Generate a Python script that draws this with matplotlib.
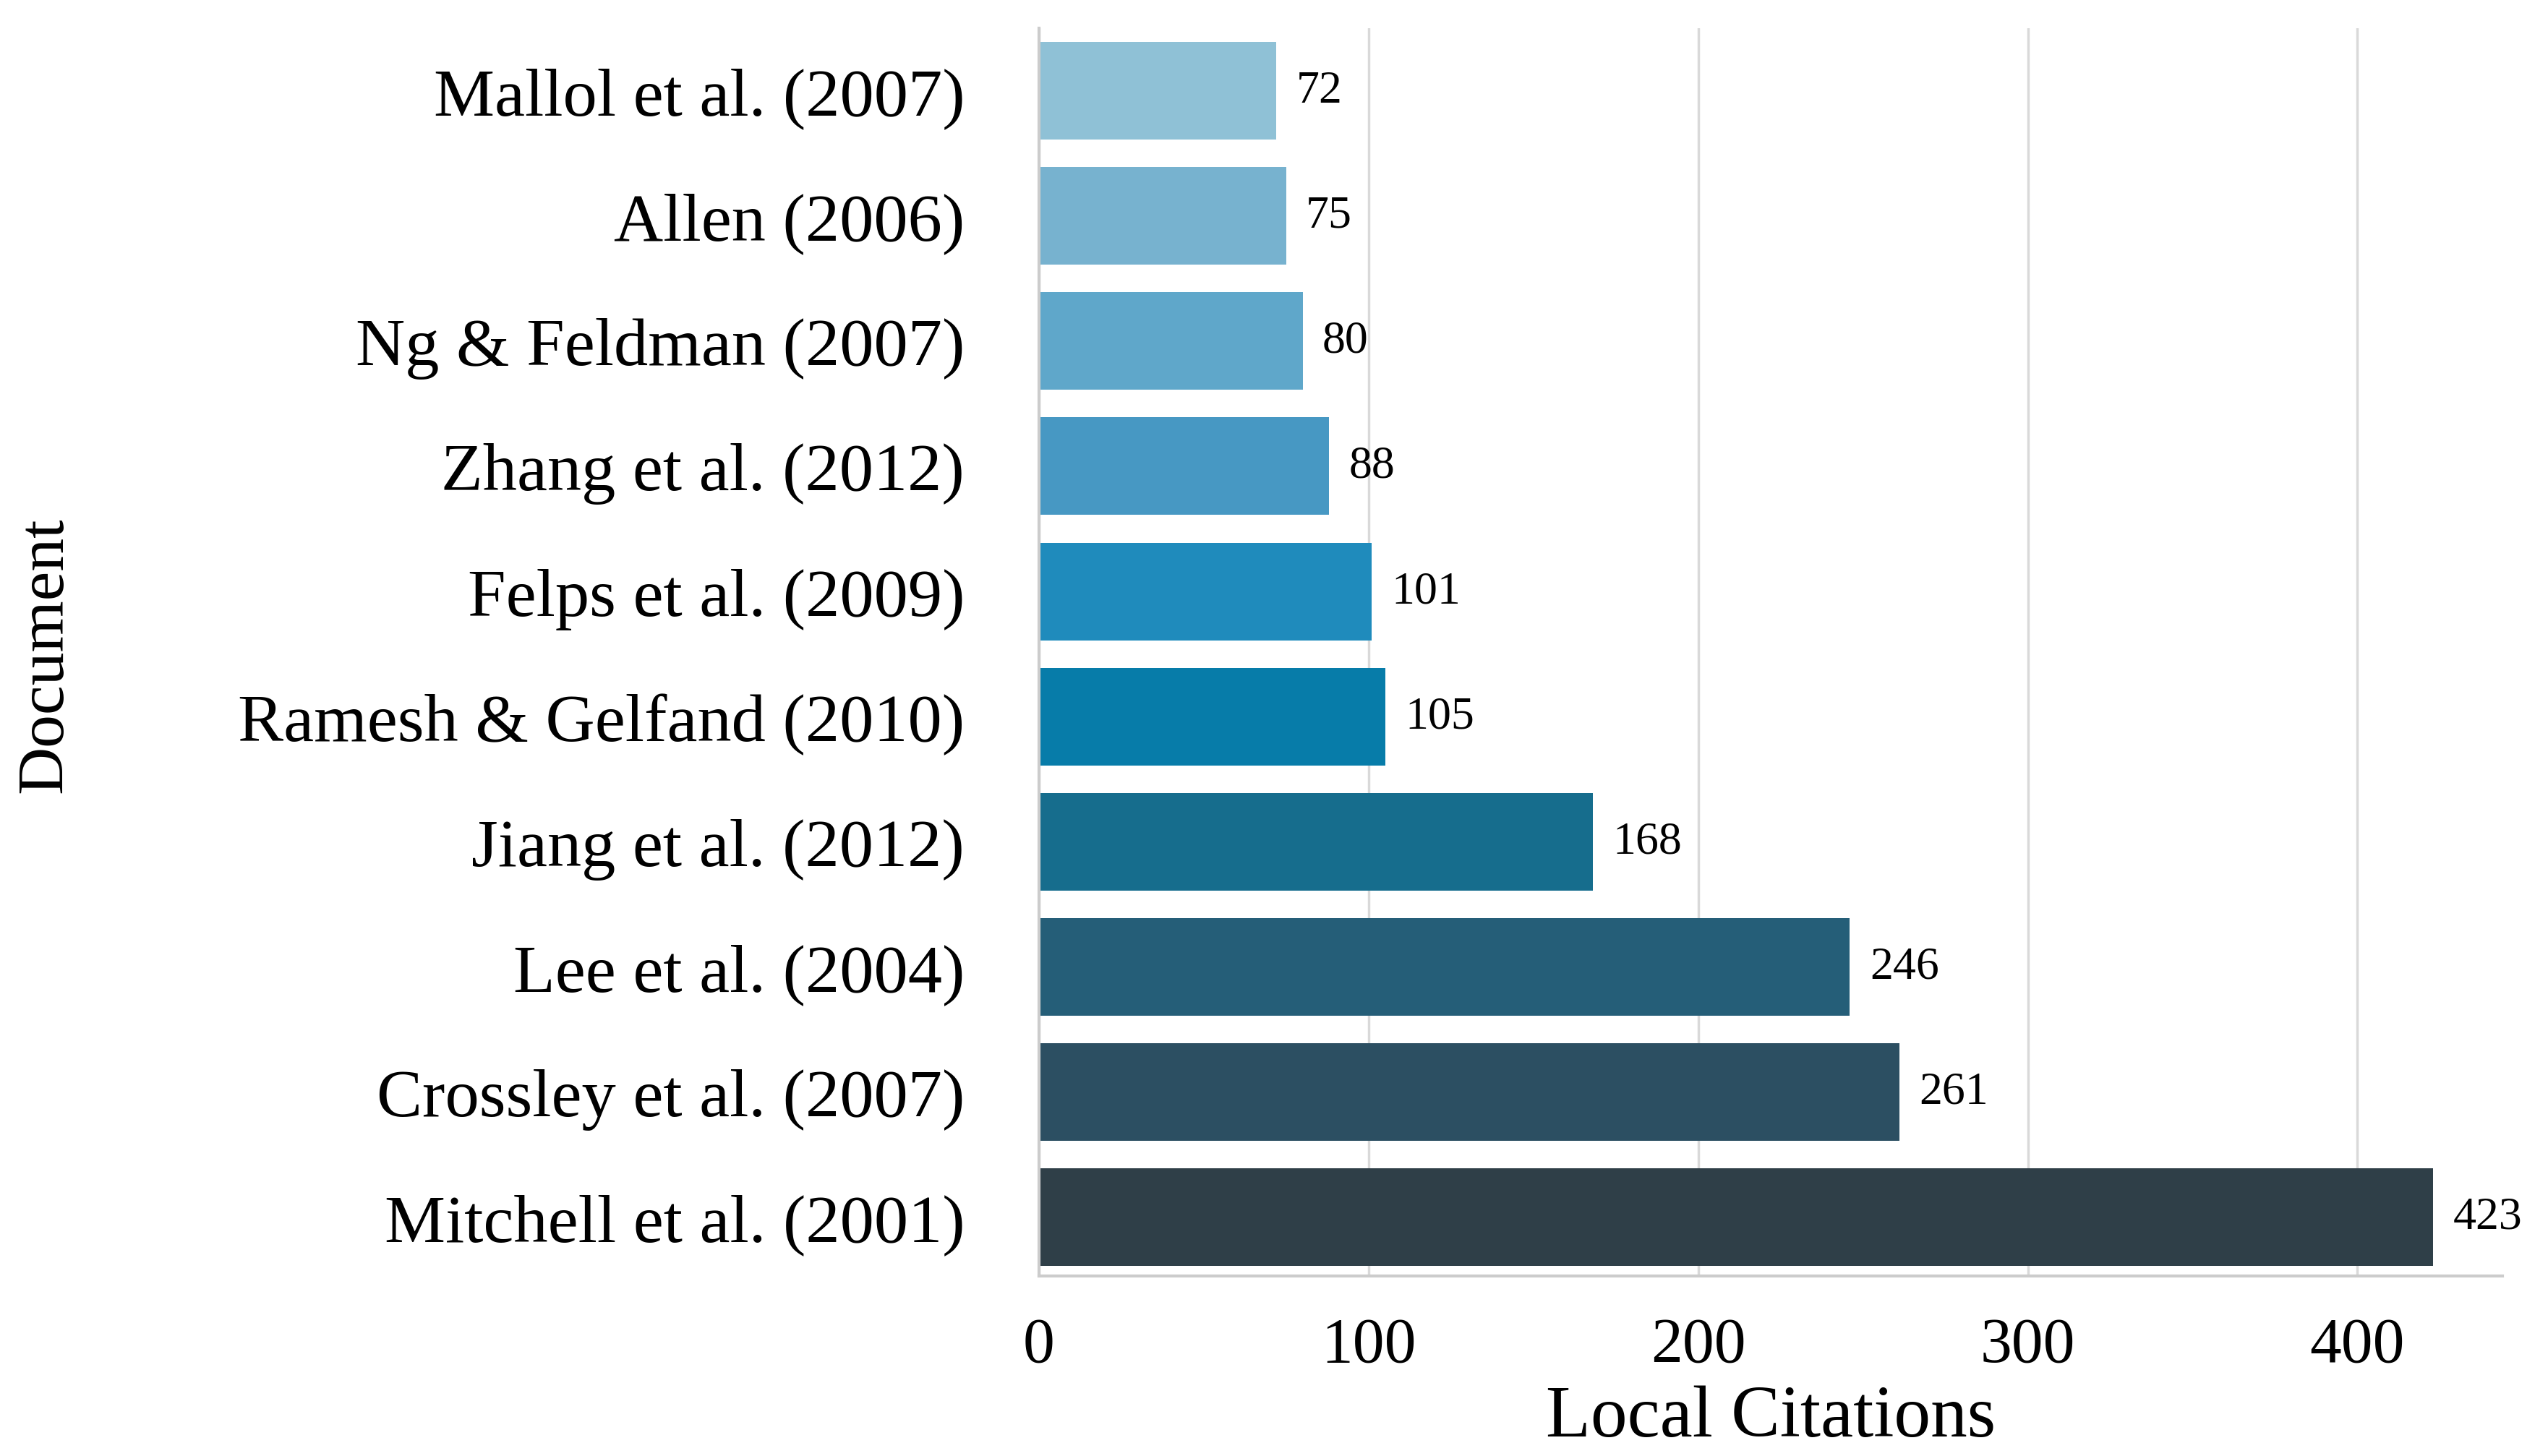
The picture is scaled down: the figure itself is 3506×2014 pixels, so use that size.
import matplotlib
matplotlib.use('Agg')
import matplotlib.pyplot as plt

documents = ['Mitchell et al. (2001)', 'Crossley et al. (2007)', 'Lee et al. (2004)',
             'Jiang et al. (2012)', 'Ramesh & Gelfand (2010)', 'Felps et al. (2009)',
             'Zhang et al. (2012)', 'Ng & Feldman (2007)', 'Allen (2006)', 'Mallol et al. (2007)']
citations = [423, 261, 246, 168, 105, 101, 88, 80, 75, 72]
colors = ['#2F3F48', '#2C4F62', '#255E78', '#166D8D', '#077CA9',
          '#1F8BBC', '#4798C3', '#5FA7CA', '#77B2CF', '#8FC1D6']
x_ticks = [0, 100, 200, 300, 400]

plt.rcParams['font.family'] = ['Liberation Serif', 'DejaVu Serif']

fig = plt.figure(figsize=(35.06, 20.15), dpi=100)
ax = fig.add_axes([1437/3506, 1 - 1766/2015, (3461-1437)/3506, (1766-40)/2015])

y = list(range(len(documents)))
ax.barh(y, citations, height=0.78, color=colors, zorder=2)
for yi, v in zip(y, citations):
    ax.text(v + 6, yi, str(v), va='center', ha='left', fontsize=46, zorder=3)

ax.set_xlim(0, 444)
ax.set_ylim(-0.47, 9.5)
ax.set_yticks(y)
ax.set_yticklabels(documents, fontsize=68)
ax.set_xticks(x_ticks)
ax.set_xticklabels([str(t) for t in x_ticks], fontsize=63)
ax.tick_params(axis='both', length=0)
ax.tick_params(axis='y', pad=74)
ax.tick_params(axis='x', pad=40)

ax.grid(axis='x', color='#D9D9D9', linewidth=2.5, zorder=0)
ax.set_axisbelow(True)
for s in ['top', 'right']:
    ax.spines[s].set_visible(False)
ax.spines['left'].set_color('#CCCCCC')
ax.spines['bottom'].set_color('#CCCCCC')
ax.spines['left'].set_linewidth(3)
ax.spines['bottom'].set_linewidth(3)

ax.set_xlabel('Local Citations', fontsize=73, labelpad=10)
fig.text(63/3506, 1 - 906/2015, 'Document', rotation=90, fontsize=66,
         ha='center', va='center')

fig.savefig('out.png', dpi=100)
print("done")
